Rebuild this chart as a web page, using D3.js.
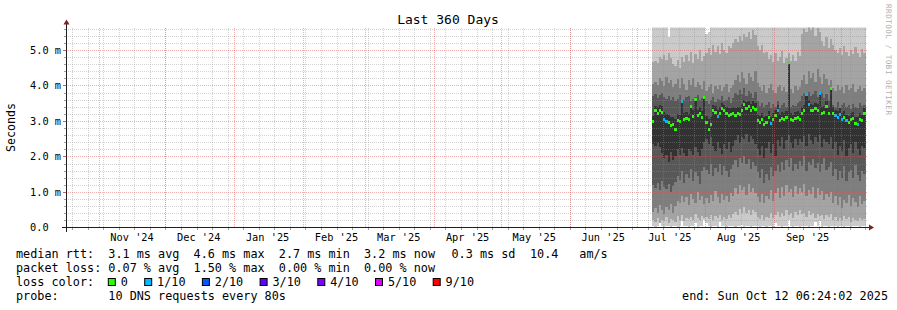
<!DOCTYPE html>
<html>
<head>
<meta charset="utf-8">
<script src="https://cdn.jsdelivr.net/npm/d3@7"></script>
<style>
  body { margin: 0; background: #fff; }
  text { font-family: "DejaVu Sans Mono", monospace; fill: #000; white-space: pre; }
</style>
</head>
<body>
<svg id="chart" width="897" height="310"></svg>
<script>
// --- data (ms), one value per day starting 2025-07-08 ---
const medianRtt = [
  2.99,3.28,3.22,3.30,3.25,3.05,2.99,2.95,2.88,2.90,2.75,3.02,
  2.98,3.55,3.05,3.08,3.03,3.40,3.12,3.60,3.15,3.20,3.10,3.65,
  2.95,2.75,2.90,3.30,3.25,3.12,3.22,3.35,3.30,3.20,3.15,3.18,
  3.20,3.15,3.22,3.18,3.30,3.45,3.35,3.40,3.30,3.38,3.32,3.00,
  2.95,3.05,2.90,2.95,3.10,2.92,3.05,3.15,3.30,3.00,3.08,3.05,
  3.10,4.65,3.05,3.00,3.08,3.10,3.05,3.22,3.28,3.75,3.45,3.30,
  3.28,3.35,3.30,3.76,3.20,3.25,3.42,3.20,3.90,3.20,3.15,3.10,
  3.18,3.05,3.10,3.00,2.95,3.05,3.08,2.92,2.90,3.05,3.00,3.20
];
// index into lossColors per day
const lossLevel = [
  0,0,0,0,0,1,1,0,0,0,0,0,
  0,1,0,0,0,0,0,0,0,0,0,0,
  0,0,0,0,0,1,0,0,0,0,0,0,
  0,0,0,0,0,0,0,0,0,0,0,0,
  0,0,0,0,0,1,0,0,1,0,0,0,
  0,0,0,0,0,0,0,0,0,1,1,0,
  0,0,0,1,0,0,0,0,0,0,1,1,
  1,1,0,1,0,0,0,0,1,0,0,0
];
const ping1 = [
  0.03,0.02,0.04,0.15,0.03,0.02,0.05,0.03,0.02,0.04,0.03,0.02,
  0.03,0.18,0.04,0.03,0.02,0.05,0.03,0.14,0.02,0.04,0.03,0.20,
  0.12,0.03,0.02,0.04,0.03,0.02,0.16,0.03,0.04,0.02,0.03,0.05,
  0.03,0.02,0.04,0.03,0.06,0.02,0.03,0.04,0.02,0.05,0.03,0.04,
  0.02,0.03,0.05,0.02,0.04,0.03,0.02,0.12,0.03,0.04,0.02,0.03,
  0.05,0.22,0.03,0.02,0.04,0.03,0.02,0.05,0.03,0.04,0.02,0.03,
  0.04,0.15,0.03,0.18,0.02,0.04,0.03,0.02,0.05,0.03,0.04,0.02,
  0.03,0.05,0.02,0.04,0.03,0.02,0.04,0.03,0.05,0.02,0.03,0.04
];
const ping2 = [
  0.20,0.15,0.28,0.12,0.22,0.18,0.30,0.14,0.25,0.20,0.16,0.32,
  0.22,0.35,0.18,0.28,0.24,0.30,0.20,0.38,0.26,0.22,0.33,0.28,
  0.30,0.24,0.35,0.20,0.32,0.27,0.36,0.22,0.30,0.25,0.34,0.28,
  0.38,0.45,0.35,0.52,0.42,0.58,0.40,0.50,0.36,0.48,0.44,0.30,
  0.25,0.35,0.22,0.30,0.28,0.40,0.26,0.34,0.45,0.30,0.42,0.32,
  0.48,0.36,0.40,0.28,0.44,0.34,0.50,0.38,0.42,0.30,0.46,0.35,
  0.40,0.28,0.38,0.32,0.36,0.25,0.34,0.30,0.38,0.22,0.30,0.18,
  0.28,0.20,0.32,0.24,0.30,0.16,0.26,0.22,0.18,0.28,0.20,0.24
];
const ping3 = [
  0.45,0.55,0.40,0.62,0.50,0.38,0.58,0.48,0.66,0.42,0.60,0.75,
  0.68,0.90,0.72,0.85,0.62,0.95,0.80,0.70,1.00,0.78,0.88,0.65,
  0.82,0.70,0.92,0.75,1.02,0.85,0.68,0.95,0.78,0.88,0.72,0.98,
  0.90,1.10,0.95,1.20,1.05,1.15,0.92,1.22,1.00,1.12,0.98,0.85,
  0.72,0.95,0.68,0.88,0.80,1.05,0.75,0.98,1.10,0.82,1.15,0.90,
  1.20,1.00,1.08,0.85,1.18,0.95,1.12,1.00,1.22,0.88,1.05,0.95,
  1.15,0.82,1.10,0.92,1.02,0.78,0.95,0.85,1.00,0.70,0.90,0.62,
  0.85,0.55,0.78,0.68,0.92,0.60,0.82,0.72,0.58,0.88,0.65,0.75
];
const ping4 = [
  1.20,1.10,1.25,1.05,1.30,1.15,1.08,1.22,1.00,1.18,1.28,1.45,
  1.35,1.60,1.25,1.50,1.40,1.65,1.30,1.55,1.45,1.22,1.58,1.70,
  1.62,1.50,1.78,1.45,1.68,1.55,1.80,1.48,1.72,1.60,1.42,1.65,
  1.75,1.90,1.70,1.95,1.82,2.00,1.78,1.92,1.65,1.85,1.72,1.55,
  1.40,1.65,1.25,1.50,1.35,1.70,1.45,1.60,1.75,1.55,1.85,1.62,
  1.90,1.70,1.95,1.58,1.80,1.65,1.88,1.72,2.00,1.60,1.85,1.75,
  1.92,1.68,1.82,1.55,1.78,1.95,1.62,1.70,1.85,1.45,1.65,1.35,
  1.58,1.40,1.72,1.30,1.55,1.62,1.38,1.75,1.48,1.32,1.60,1.50
];
const ping5 = [
  2.35,2.30,2.38,2.28,2.10,1.95,2.05,1.85,2.12,1.90,2.00,2.20,
  2.05,2.25,2.10,2.00,2.22,2.15,2.05,2.27,2.12,2.02,2.20,2.40,
  2.50,2.35,2.55,2.30,2.15,2.40,2.25,2.08,2.35,2.20,2.42,2.12,
  2.30,2.45,2.60,2.38,2.55,2.48,2.62,2.40,2.58,2.50,2.35,2.20,
  2.05,2.30,1.95,2.25,2.40,2.10,2.35,2.00,2.45,2.30,2.55,2.20,
  2.45,2.60,2.38,2.25,2.50,2.32,2.48,2.40,2.58,2.30,2.62,2.45,
  2.35,2.55,2.40,2.60,2.28,2.50,2.42,2.35,2.55,2.20,2.40,2.05,
  2.30,2.15,2.45,2.00,2.25,2.35,2.10,2.40,2.20,2.05,2.30,2.25
];
const ping6 = [
  3.15,3.42,3.40,3.45,3.42,3.25,3.20,3.18,3.10,3.12,3.05,3.20,
  3.18,3.58,3.22,3.25,3.20,3.45,3.30,3.63,3.32,3.38,3.28,3.68,
  3.15,3.05,3.12,3.45,3.42,3.30,3.40,3.50,3.45,3.38,3.35,3.36,
  3.38,3.35,3.40,3.38,3.48,3.58,3.52,3.55,3.48,3.55,3.50,3.20,
  3.15,3.22,3.10,3.15,3.28,3.12,3.22,3.32,3.45,3.20,3.25,3.22,
  3.28,4.68,3.22,3.18,3.25,3.28,3.22,3.40,3.45,3.78,3.60,3.48,
  3.45,3.50,3.48,3.80,3.38,3.42,3.55,3.38,3.93,3.38,3.32,3.28,
  3.35,3.22,3.28,3.18,3.15,3.22,3.25,3.12,3.10,3.22,3.18,3.35
];
const ping7 = [
  3.70,3.75,3.65,3.72,3.80,3.68,3.62,3.70,3.58,3.66,3.55,3.62,
  3.72,3.60,3.58,3.66,3.70,3.55,3.62,3.68,3.74,3.58,3.64,3.70,
  3.55,3.48,3.60,3.66,3.52,3.62,3.58,3.70,3.55,3.60,3.66,3.50,
  3.64,3.80,3.72,3.88,3.75,3.92,3.70,3.85,3.78,3.65,3.82,3.55,
  3.42,3.50,3.38,3.46,3.52,3.35,3.48,3.40,3.55,3.36,3.44,3.50,
  3.40,3.52,3.38,3.46,3.42,3.50,3.56,3.70,3.78,3.62,3.82,3.70,
  3.75,3.85,3.66,3.72,3.80,3.64,3.76,3.58,3.70,3.46,3.40,3.52,
  3.36,3.44,3.50,3.38,3.45,3.34,3.48,3.40,3.36,3.50,3.42,3.46
];
const ping8 = [
  4.05,4.10,4.02,4.20,4.12,3.98,4.25,4.08,4.15,3.95,4.05,4.18,
  3.92,4.22,4.05,3.88,4.15,4.00,4.20,3.95,4.10,4.02,3.90,4.12,
  3.85,3.95,4.05,3.80,3.98,3.90,4.02,3.85,3.95,4.05,3.82,3.92,
  4.00,4.15,4.30,4.10,4.38,4.22,4.05,4.35,4.25,4.12,4.40,4.08,
  3.95,3.85,4.00,3.80,3.92,4.05,3.88,3.78,3.95,4.02,3.85,3.96,
  3.82,4.00,3.90,3.78,3.98,3.86,3.95,4.15,4.30,4.05,4.40,4.22,
  4.35,4.10,4.45,4.25,4.05,4.32,4.18,4.00,4.15,3.92,3.85,4.02,
  3.88,3.95,3.80,4.00,3.86,3.92,4.05,3.82,3.90,3.98,3.85,3.92
];
const ping9 = [
  4.65,4.70,4.62,4.80,4.75,4.85,4.72,4.90,4.78,4.60,4.55,4.72,
  4.50,4.80,4.65,4.85,4.70,4.95,4.62,4.88,4.75,5.00,4.68,4.82,
  4.90,5.05,4.85,5.15,4.95,5.10,4.88,5.20,5.00,4.92,5.12,5.05,
  5.18,5.30,5.22,5.40,5.25,5.45,5.35,5.50,5.30,5.55,5.42,5.10,
  5.00,5.15,4.90,4.95,4.75,4.85,4.65,4.92,4.70,4.80,4.98,4.62,
  4.78,4.90,4.70,4.85,4.68,4.95,4.82,5.45,5.60,5.50,5.70,5.55,
  5.65,5.40,5.62,5.50,5.25,5.10,5.35,5.05,5.30,5.15,5.00,4.90,
  5.05,4.85,5.10,4.95,4.82,5.00,4.88,5.08,4.90,4.80,5.02,4.92
];
const ping10 = [
  6.00,6.10,5.90,6.20,6.05,5.95,5.80,5.35,5.90,6.10,6.00,6.20,
  5.95,6.30,6.05,5.90,6.10,6.00,6.20,6.15,5.95,6.05,6.10,5.90,
  5.45,5.50,5.85,6.10,6.00,6.20,5.95,6.05,6.30,6.10,6.00,5.90,
  6.20,6.40,6.10,6.30,6.25,6.50,6.20,6.40,6.30,6.35,6.20,6.10,
  6.00,6.20,5.95,6.05,5.90,6.10,6.00,6.15,5.95,6.20,6.05,5.90,
  6.10,6.30,6.00,6.15,5.95,6.20,6.10,6.40,6.50,6.30,6.60,6.40,
  6.50,6.30,6.45,6.20,6.10,6.30,6.15,6.00,6.25,6.05,5.95,6.10,
  6.00,6.15,5.90,6.05,6.10,5.95,6.20,6.00,5.90,6.10,6.05,6.00
];

const yTickValues = [0, 1, 2, 3, 4, 5];
const yTickLabels = ["0.0", "1.0 m", "2.0 m", "3.0 m", "4.0 m", "5.0 m"];
const yMax = 5.63;
const lossLabels = ["0", "1/10", "2/10", "3/10", "4/10", "5/10", "9/10"];
const lossColors = ["#26ff00", "#00b8ff", "#0059ff", "#5e00ff", "#7e00ff", "#dd00ff", "#ff0000"];
const bandColors = ["#cacaca", "#a4a4a4", "#7e7e7e", "#585858", "#323232"];

const titleText = "Last 360 Days";
const rttParts = [
  ["median rtt:  3.1 ms avg  4.6 ms max  2.7 ms min  3.2 ms now", 16],
  ["0.3 ms sd", 451.5],
  ["10.4", 530],
  ["am/s", 579.3]
];
const lossLine = "packet loss: 0.07 % avg  1.50 % max  0.00 % min  0.00 % now";
const probeLine = "probe:       10 DNS requests every 80s";
const endLine = "end: Sun Oct 12 06:24:02 2025";

const firstDay = new Date(2025, 6, 8);
const endTime = new Date(2025, 9, 12, 6, 24, 2);
const startTime = d3.timeDay.offset(endTime, -360);

// --- layout ---
const X0 = 66, X1 = 866, Y0 = 227.5, Y1 = 27.5;
const svg = d3.select("#chart");

const x = d3.scaleTime().domain([startTime, endTime]).range([X0, X1]);
const y = d3.scaleLinear().domain([0, yMax]).range([Y0, Y1]);
const px = v => Math.round(v) + 0.5;

const days = medianRtt.map((_, i) => d3.timeDay.offset(firstDay, i));
const stepDates = days.concat([endTime]);
const pings = [ping1, ping2, ping3, ping4, ping5, ping6, ping7, ping8, ping9, ping10];

svg.append("defs").append("clipPath").attr("id", "plot")
  .append("rect").attr("x", X0).attr("y", Y1).attr("width", X1 - X0).attr("height", Y0 - Y1);

// smoke: outer pairs light, inner pairs dark
const smoke = svg.append("g").attr("clip-path", "url(#plot)").attr("shape-rendering", "crispEdges");
bandColors.forEach((color, k) => {
  const lo = pings[k], hi = pings[9 - k];
  const pts = stepDates.map((d, i) => {
    const j = Math.min(i, lo.length - 1);
    return { d: d, lo: lo[j], hi: hi[j] };
  });
  smoke.append("path").datum(pts)
    .attr("fill", color)
    .attr("d", d3.area().curve(d3.curveStepAfter)
      .x(p => x(p.d)).y0(p => y(p.lo)).y1(p => y(p.hi)));
});

// median, coloured by loss
smoke.selectAll("rect.median").data(medianRtt).join("rect")
  .attr("class", "median")
  .attr("x", (v, i) => x(days[i]))
  .attr("width", (v, i) => x(stepDates[i + 1]) - x(days[i]))
  .attr("y", v => y(v) - 1.5)
  .attr("height", 3)
  .attr("fill", (v, i) => lossColors[lossLevel[i]]);

// grid (drawn over the graph, like rrdtool)
const grid = svg.append("g").attr("shape-rendering", "crispEdges");
const minorColor = "rgba(143,143,143,0.4)";
const majorColor = "rgba(222,79,79,0.45)";

const yMinor = d3.range(1, 29).map(k => k * 0.2).filter(v => v < yMax && Math.abs(v - Math.round(v)) > 0.01);
grid.selectAll("line.hmin").data(yMinor).join("line")
  .attr("x1", X0).attr("x2", X1 + 2)
  .attr("y1", v => px(y(v))).attr("y2", v => px(y(v)))
  .attr("stroke", minorColor).attr("stroke-dasharray", "1,1");
grid.selectAll("line.hmintick").data(yMinor).join("line")
  .attr("x1", X0 - 2).attr("x2", X0)
  .attr("y1", v => px(y(v))).attr("y2", v => px(y(v)))
  .attr("stroke", "#a0a0a0");

const weeks = d3.timeSunday.range(startTime, endTime);
grid.selectAll("line.vmin").data(weeks).join("line")
  .attr("x1", d => px(x(d))).attr("x2", d => px(x(d)))
  .attr("y1", Y1).attr("y2", Y0)
  .attr("stroke", minorColor).attr("stroke-dasharray", "1,1");
grid.selectAll("line.vmintick").data(weeks).join("line")
  .attr("x1", d => px(x(d))).attr("x2", d => px(x(d)))
  .attr("y1", Y0).attr("y2", Y0 + 2)
  .attr("stroke", "#a0a0a0");

const months = d3.timeMonth.range(startTime, endTime);
grid.selectAll("line.vmaj").data(months).join("line")
  .attr("x1", d => px(x(d))).attr("x2", d => px(x(d)))
  .attr("y1", Y1).attr("y2", Y0)
  .attr("stroke", majorColor).attr("stroke-dasharray", "1,1");

const yMajor = yTickValues.filter(v => v > 0);
grid.selectAll("line.hmaj").data(yMajor).join("line")
  .attr("x1", X0).attr("x2", X1 + 2)
  .attr("y1", v => px(y(v))).attr("y2", v => px(y(v)))
  .attr("stroke", majorColor).attr("stroke-dasharray", "1,1");
grid.selectAll("line.hmajtick").data(yMajor).join("line")
  .attr("x1", X0 - 3).attr("x2", X0)
  .attr("y1", v => px(y(v))).attr("y2", v => px(y(v)))
  .attr("stroke", "#d06060");

// axes with arrows
const axis = svg.append("g").attr("shape-rendering", "crispEdges");
axis.append("line").attr("x1", X0 + 0.5).attr("x2", X0 + 0.5).attr("y1", Y0 + 4).attr("y2", Y1 - 5)
  .attr("stroke", "#1f1f1f");
axis.append("line").attr("x1", X0 - 4).attr("x2", X1 + 4).attr("y1", Y0).attr("y2", Y0)
  .attr("stroke", "#1f1f1f");
svg.append("path")
  .attr("d", `M${X0 - 2.5},${Y1 - 3} L${X0 + 3.5},${Y1 - 3} L${X0 + 0.5},${Y1 - 8} Z`)
  .attr("fill", "#801f1f");
svg.append("path")
  .attr("d", `M${X1 + 3},${Y0 - 3} L${X1 + 3},${Y0 + 3} L${X1 + 8},${Y0} Z`)
  .attr("fill", "#801f1f");

// tick labels
svg.selectAll("text.ylab").data(yTickValues).join("text")
  .attr("class", "ylab")
  .attr("x", 30).attr("y", v => y(v) + 3.7)
  .style("font-size", "10.3px")
  .text((v, i) => yTickLabels[i]);

const fmtMonth = d3.timeFormat("%b '%y");
const monthLabels = months.map(m => d3.timeDay.offset(m, 15)).filter(d => d > startTime && d < endTime);
svg.selectAll("text.xlab").data(monthLabels).join("text")
  .attr("class", "xlab")
  .attr("x", d => x(d)).attr("y", 241)
  .attr("text-anchor", "middle")
  .style("font-size", "10.3px")
  .text(d => fmtMonth(d3.timeMonth.floor(d)));

// title and side labels
svg.append("text").attr("x", 448).attr("y", 23.5).attr("text-anchor", "middle")
  .style("font-size", "13px").text(titleText);
svg.append("text").attr("transform", "translate(15,127.5) rotate(-90)").attr("text-anchor", "middle")
  .style("font-size", "11.6px").text("Seconds");
svg.append("text").attr("transform", "translate(885.5,4) rotate(90)")
  .attr("textLength", 111).attr("lengthAdjust", "spacing")
  .style("font-size", "7.6px").style("fill", "#b0b0b0").text("RRDTOOL / TOBI OETIKER");

// legend
const legend = svg.append("g").style("font-size", "11.8px");
rttParts.forEach(([txt, lx0]) => {
  legend.append("text").attr("x", lx0).attr("y", 258.3).text(txt);
});
legend.append("text").attr("x", 16).attr("y", 272.3).text(lossLine);
legend.append("text").attr("x", 16).attr("y", 286.3).text("loss color:");
legend.append("text").attr("x", 16).attr("y", 300.3).text(probeLine);
legend.append("text").attr("x", 888).attr("y", 300.3).attr("text-anchor", "end").text(endLine);

let lx = 108.3;
lossLabels.forEach((lab, i) => {
  legend.append("rect").attr("x", lx).attr("y", 278.5).attr("width", 7).attr("height", 7)
    .attr("fill", lossColors[i]).attr("stroke", "#000").attr("stroke-width", 1);
  legend.append("text").attr("x", lx + 12.4).attr("y", 286.3).text(lab);
  lx += 12.4 + lab.length * 7.1 + 16.9;
});
</script>
</body>
</html>
